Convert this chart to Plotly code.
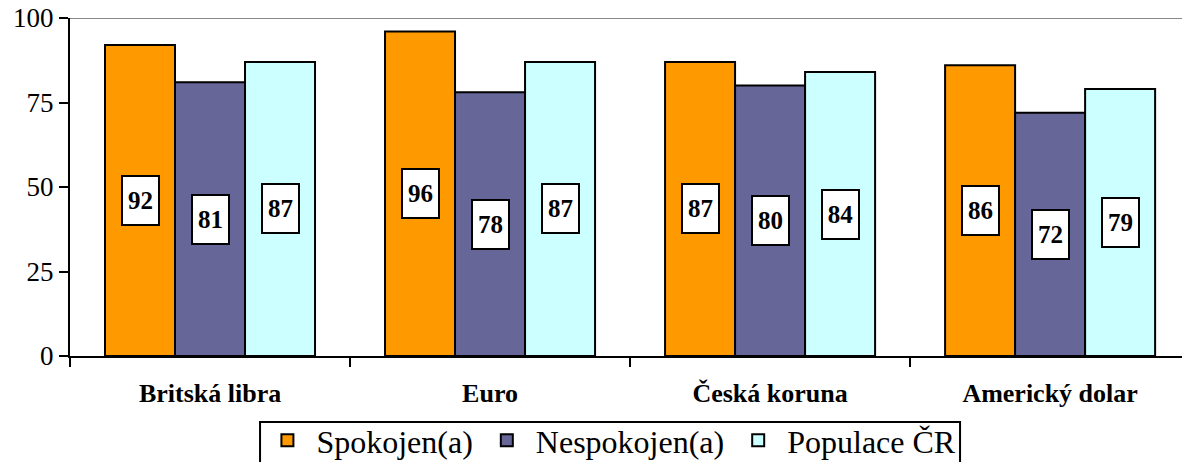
import plotly.graph_objects as go

categories = ["Britská libra", "Euro", "Česká koruna", "Americký dolar"]
series_names = ["Spokojen(a)", "Nespokojen(a)", "Populace ČR"]
spokojen = [92, 96, 87, 86]
nespokojen = [81, 78, 80, 72]
populace = [87, 87, 84, 79]
colors = ["#FF9900", "#666699", "#CCFFFF"]

FONT = "Liberation Serif"
series = [spokojen, nespokojen, populace]

fig = go.Figure()
for name, vals, col in zip(series_names, series, colors):
    fig.add_trace(go.Bar(
        x=categories, y=vals, name=name,
        marker=dict(color=col, line=dict(color="black", width=2)),
    ))

# value labels in white boxes at bar mid-height
shifts = [-70, 0, 70]
for vals, sh in zip(series, shifts):
    for cat, v in zip(categories, vals):
        fig.add_annotation(
            x=cat, y=v / 2, xref="x", yref="y", xshift=sh,
            text="<b>%d</b>" % v, showarrow=False,
            font=dict(family=FONT, size=25, color="black"),
            bgcolor="white", bordercolor="black", borderwidth=2,
            width=33, height=45, borderpad=1,
        )

# top border line at 100
fig.add_shape(type="line", xref="paper", yref="y", x0=0, x1=1, y0=100, y1=100,
              line=dict(color="#888888", width=2), layer="below")
# legend frame
fig.add_shape(type="rect", xref="paper", yref="paper",
              x0=0.1709, x1=0.8004, y0=-0.1953, y1=-0.40,
              line=dict(color="black", width=2), fillcolor="rgba(0,0,0,0)")

fig.update_layout(
    width=1182, height=462,
    margin=dict(l=70, r=0, t=18, b=106, autoexpand=False),
    paper_bgcolor="white", plot_bgcolor="white",
    barmode="group", bargap=0.25, bargroupgap=0,
    font=dict(family=FONT, color="black"),
    showlegend=True,
    legend=dict(
        orientation="h", xref="container", yref="container",
        x=0.516, xanchor="center", y=0.106, yanchor="top",
        font=dict(family=FONT, size=32, color="black"),
        borderwidth=0, bgcolor="rgba(0,0,0,0)",
        itemwidth=48, tracegroupgap=0,
    ),
    xaxis=dict(
        range=[-0.5, 3.471], showgrid=False, showline=True, linecolor="black", linewidth=2,
        ticks="outside", tickson="boundaries", ticklen=9, tickwidth=2, tickcolor="black",
        tickfont=dict(family=FONT, size=26, color="black"),
        ticklabelstandoff=13, automargin=False,
        tickprefix="<b>", ticksuffix="</b>",
    ),
    yaxis=dict(
        range=[0, 100], tickvals=[0, 25, 50, 75, 100], showgrid=False,
        showline=True, linecolor="black", linewidth=2,
        ticks="outside", ticklen=9, tickwidth=2, tickcolor="black",
        tickfont=dict(family=FONT, size=27, color="black"),
        zeroline=False, automargin=False,
    ),
)

fig.write_html("out.html", config={"displayModeBar": False},
               post_script="document.body.style.margin='0';")
